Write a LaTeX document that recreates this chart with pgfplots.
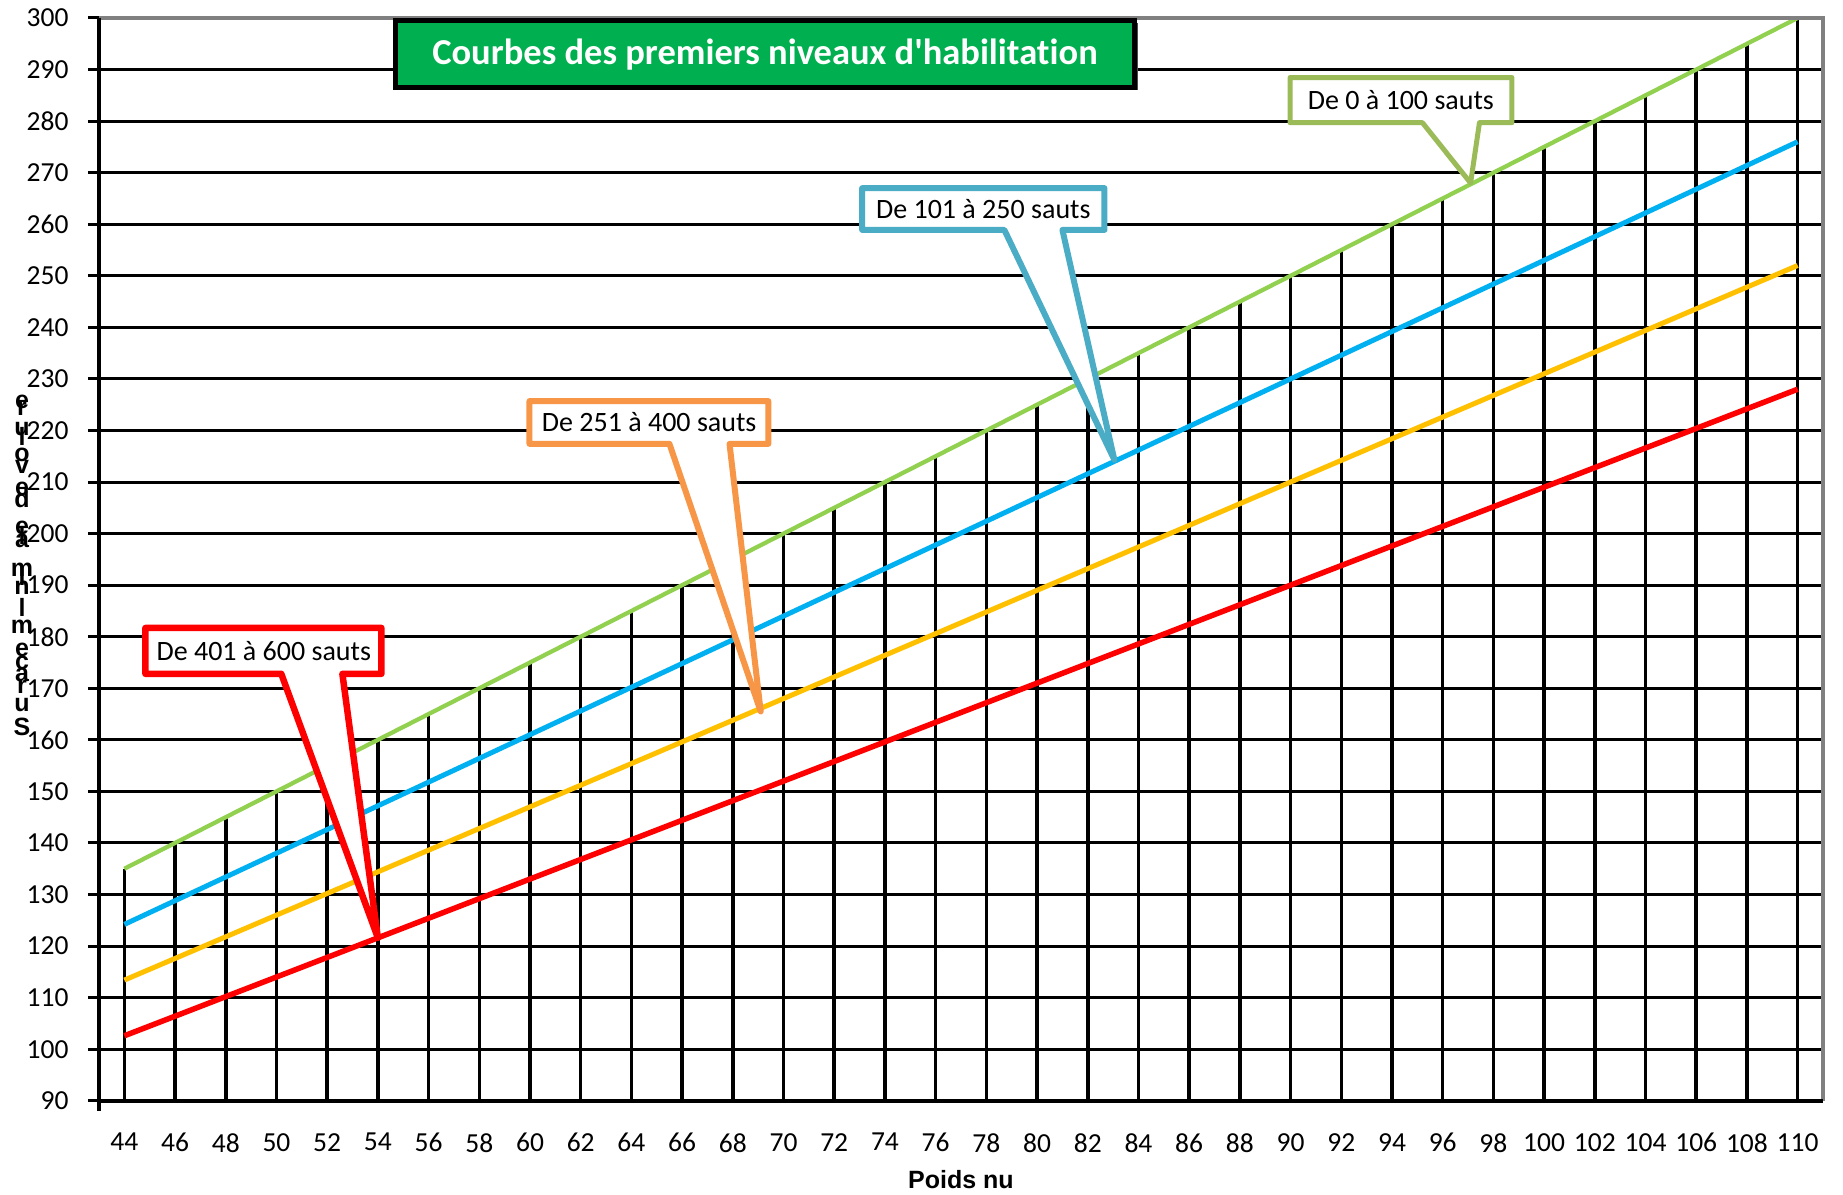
\documentclass[border=0pt]{standalone}
\usepackage{pgfplots}
\pgfplotsset{compat=1.18}
\usepackage{fontspec}
\setmainfont{Carlito}[Ligatures=NoCommon]
\newfontfamily\titlefont{Carlito}[Ligatures=NoCommon]
\newfontfamily\arialfont{Liberation Sans}
\definecolor{lgreen}{RGB}{146,208,80}
\definecolor{lblue}{RGB}{0,176,240}
\definecolor{lorange}{RGB}{255,192,0}
\definecolor{lred}{RGB}{255,0,0}
\definecolor{cgreen}{RGB}{155,187,89}
\definecolor{cblue}{RGB}{75,172,198}
\definecolor{corange}{RGB}{247,150,70}
\definecolor{tgreen}{RGB}{0,176,80}
\definecolor{spinegray}{RGB}{128,128,128}

\pgfplotstableread{
x y
44 135
46 140
48 145
50 150
52 155
54 160
56 165
58 170
60 175
62 180
64 185
66 190
68 195
70 200
72 205
74 210
76 215
78 220
80 225
82 230
84 235
86 240
88 245
90 250
92 255
94 260
96 265
98 270
100 275
102 280
104 285
106 290
108 295
110 300
}\greendata

\pgfplotstableread{
x y
44 124.2
46 128.8
48 133.4
50 138.0
52 142.6
54 147.2
56 151.8
58 156.4
60 161.0
62 165.6
64 170.2
66 174.8
68 179.4
70 184.0
72 188.6
74 193.2
76 197.8
78 202.4
80 207.0
82 211.6
84 216.2
86 220.8
88 225.4
90 230.0
92 234.6
94 239.2
96 243.8
98 248.4
100 253.0
102 257.6
104 262.2
106 266.8
108 271.4
110 276.0
}\bluedata

\pgfplotstableread{
x y
44 113.4
46 117.6
48 121.8
50 126.0
52 130.2
54 134.4
56 138.6
58 142.8
60 147.0
62 151.2
64 155.4
66 159.6
68 163.8
70 168.0
72 172.2
74 176.4
76 180.6
78 184.8
80 189.0
82 193.2
84 197.4
86 201.6
88 205.8
90 210.0
92 214.2
94 218.4
96 222.6
98 226.8
100 231.0
102 235.2
104 239.4
106 243.6
108 247.8
110 252.0
}\orangedata

\pgfplotstableread{
x y
44 102.6
46 106.4
48 110.2
50 114.0
52 117.8
54 121.6
56 125.4
58 129.2
60 133.0
62 136.8
64 140.6
66 144.4
68 148.2
70 152.0
72 155.8
74 159.6
76 163.4
78 167.2
80 171.0
82 174.8
84 178.6
86 182.4
88 186.2
90 190.0
92 193.8
94 197.6
96 201.4
98 205.2
100 209.0
102 212.8
104 216.6
106 220.4
108 224.2
110 228.0
}\reddata

\begin{document}
\begin{tikzpicture}
\useasboundingbox (-39.6pt,-37.3pt) rectangle (697.6pt,440.3pt);
\begin{axis}[
  scale only axis, width=689.6pt, height=433.1pt,
  xmin=43, xmax=111, ymin=90, ymax=300,
  xtick={44,46,...,110}, ytick={90,100,...,300},
  axis line style={draw=none},
  ymajorgrids, major grid style={black, line width=1.2pt},
  ytick pos=left, tick align=outside, major tick length=4.4pt,
  ytick style={black, line width=1.2pt},
  xtick style={draw=none},
  clip mode=individual,
  /pgf/number format/assume math mode=true,
  ticklabel style={font=\fontsize{11}{13}\selectfont, text=black},
  yticklabel style={anchor=east, inner sep=0pt, xshift=-7.6pt},
  xticklabel style={anchor=north, inner sep=0pt, yshift=-8.4pt},
  xlabel={Poids nu},
  xlabel style={font=\arialfont\bfseries\fontsize{10}{12}\selectfont, at={(axis description cs:0.5,0)}, anchor=center, yshift=-31.5pt},
]
\addplot[ycomb, black, line width=1.4pt, mark=none, forget plot] table {\greendata};
\addplot[lred, line width=2.2pt, mark=none] table {\reddata};
\addplot[lorange, line width=2pt, mark=none] table {\orangedata};
\addplot[lblue, line width=2pt, mark=none] table {\bluedata};
\addplot[lgreen, line width=1.7pt, mark=none] table {\greendata};

% spines
\draw[spinegray, line width=1.4pt] (rel axis cs:0,1) -- (rel axis cs:1,1) -- (rel axis cs:1,0);
\draw[black, line width=1.7pt] (rel axis cs:0,1) -- ([yshift=-4pt]rel axis cs:0,0);
\draw[black, line width=1.6pt] (rel axis cs:0,0) -- (rel axis cs:1,0);

% title
\fill[black!70] (axis cs:54.85,299.1) rectangle (axis cs:84.0,286.1);
\draw[black, line width=2pt, fill=tgreen] (axis cs:54.7,299.5) rectangle (axis cs:83.85,286.5);
\node[text=white, font=\titlefont\bfseries\fontsize{14.6}{17}\selectfont] at (axis cs:69.27,293) {Courbes des premiers niveaux d'habilitation};

% callouts
\draw[cgreen, line width=2pt, fill=white, line join=round]
  (axis cs:89.98,288.45) -- (axis cs:98.73,288.45) -- (axis cs:98.73,279.7) -- (axis cs:97.45,279.7)
  -- (axis cs:97.1,268) -- (axis cs:95.2,279.7) -- (axis cs:89.98,279.7) -- cycle;
\node[font=\fontsize{11.2}{13}\selectfont] at (axis cs:94.35,284.1) {De 0 à 100 sauts};

\draw[cblue, line width=2.4pt, fill=white, line join=round]
  (axis cs:73.1,267.0) -- (axis cs:82.66,267.0) -- (axis cs:82.66,258.9) -- (axis cs:81.0,258.9)
  -- (axis cs:83.05,214.3) -- (axis cs:78.71,258.9) -- (axis cs:73.1,258.9) -- cycle;
\node[font=\fontsize{11.2}{13}\selectfont] at (axis cs:77.88,262.95) {De 101 à 250 sauts};

\draw[corange, line width=2.4pt, fill=white, line join=round]
  (axis cs:59.98,225.7) -- (axis cs:69.4,225.7) -- (axis cs:69.4,217.4) -- (axis cs:67.87,217.4)
  -- (axis cs:69.1,165.5) -- (axis cs:65.5,217.4) -- (axis cs:59.98,217.4) -- cycle;
\node[font=\fontsize{11.2}{13}\selectfont] at (axis cs:64.7,221.55) {De 251 à 400 sauts};

\draw[lred, line width=2.6pt, fill=white, line join=round]
  (axis cs:44.83,181.7) -- (axis cs:54.14,181.7) -- (axis cs:54.14,172.8) -- (axis cs:52.6,172.8)
  -- (axis cs:54.0,121.6) -- (axis cs:50.19,172.8) -- (axis cs:44.83,172.8) -- cycle;
\node[font=\fontsize{11.2}{13}\selectfont] at (axis cs:49.5,177.25) {De 401 à 600 sauts};
\end{axis}
% garbled stacked y label
\foreach \l/\y in {e/279.5, r/276.7, u/268.7, l/265.9, o/258.3, v/253.5, e/244.7, d/240.7, e/229.1, l/226.3, a/223.9, m/212.3, l/209.9, n/205.1, l/197.5, m/189.5, e/180.3, c/175.1, a/170.3, r/165.5, u/158.3, S/149.5}{
  \node[font=\arialfont\bfseries\fontsize{10}{12}\selectfont, inner sep=0pt, anchor=center] at (-30.8pt,\y pt) {\l};
}
\end{tikzpicture}
\end{document}
